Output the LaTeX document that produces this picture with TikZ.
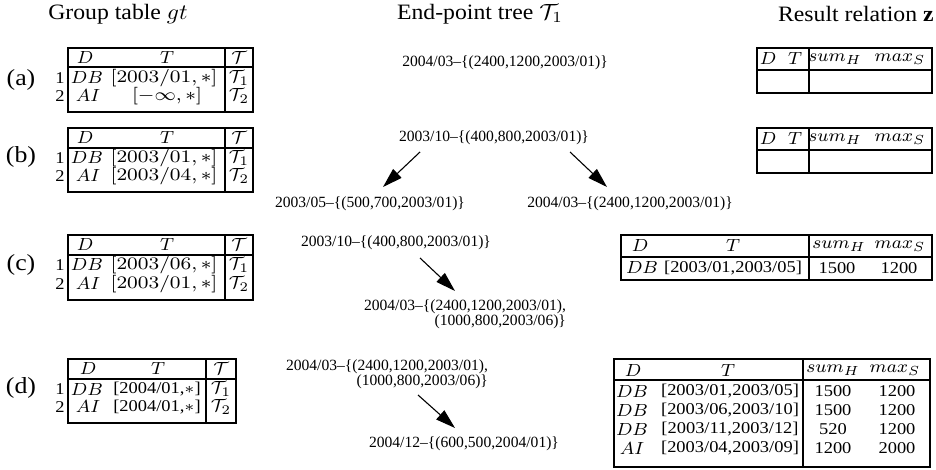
\documentclass[tikz,border=0pt]{standalone}
\usepackage[no-math]{fontspec}
\setmainfont{Liberation Serif}
\usepackage{amsmath}
\usetikzlibrary{arrows.meta, calc}

\begin{document}
\begin{tikzpicture}[
    x=0.016cm, y=-0.016cm,
    tbl/.style={line width=1.3pt},
    mth/.style={inner sep=0pt, xscale=1.04, font=\fontsize{8}{9.6}\selectfont},
    ivl/.style={mth, xscale=1.1},
    txt/.style={inner sep=0pt, xscale=1.12, font=\fontsize{7.5}{9}\selectfont},
    tree/.style={inner sep=0pt, align=right, font=\fontsize{7.1}{7}\selectfont},
    head/.style={inner sep=0pt, xscale=1.08, font=\fontsize{10}{12}\selectfont},
    tag/.style={inner sep=0pt, xscale=1.12, font=\fontsize{10.5}{12}\selectfont},
    tarrow/.style={line width=0.5pt, -{Triangle[length=9pt, width=5.5pt]}}
]
   \useasboundingbox (0,0) rectangle (936,470);

   % Headings
   \node[head] (hgt) at (118,14) {Group table $gt$};
   \node[head] (htree) at (480,14) {End-point tree $\mathcal{T}_1$};
   \node[head, anchor=east] (hres) at (934,14) {Result relation \textbf{z}};

   % Step labels
   \node[tag] (la) at (21,80) {(a)};
   \node[tag] (lb) at (21,157) {(b)};
   \node[tag] (lc) at (21,265) {(c)};
   \node[tag] (ld) at (21,388) {(d)};

   % Group table (a)
   \draw[tbl] (68,48) rectangle (253,112) (68,67) -- (253,67) (225,48) -- (225,112);
   \node[mth] (gaD) at (85,57.5) {$D$};
   \node[mth] (gaT) at (167,57.5) {$T$};
   \node[mth] (gaC) at (239,57.5) {$\mathcal{T}$};
   \node[txt] (ga1) at (60,78) {1};
   \node[mth] (ga1d) at (87,78) {$DB$};
   \node[ivl] (ga1t) at (164,78) {$[2003/01,*]$};
   \node[mth] (ga1c) at (239,78) {$\mathcal{T}_1$};
   \node[txt] (ga2) at (60,96) {2};
   \node[mth] (ga2d) at (88,96) {$AI$};
   \node[ivl] (ga2t) at (167,96) {$[-\infty,*]$};
   \node[mth] (ga2c) at (239,96) {$\mathcal{T}_2$};

   % Group table (b)
   \draw[tbl] (68,128) rectangle (253,192) (68,148) -- (253,148) (225,128) -- (225,192);
   \node[mth] (gbD) at (85,138) {$D$};
   \node[mth] (gbT) at (167,138) {$T$};
   \node[mth] (gbC) at (239,138) {$\mathcal{T}$};
   \node[txt] (gb1) at (60,158) {1};
   \node[mth] (gb1d) at (87,158) {$DB$};
   \node[ivl] (gb1t) at (164,158) {$[2003/01,*]$};
   \node[mth] (gb1c) at (239,158) {$\mathcal{T}_1$};
   \node[txt] (gb2) at (60,176) {2};
   \node[mth] (gb2d) at (88,176) {$AI$};
   \node[ivl] (gb2t) at (164,176) {$[2003/04,*]$};
   \node[mth] (gb2c) at (239,176) {$\mathcal{T}_2$};

   % Group table (c)
   \draw[tbl] (68,235) rectangle (253,300) (68,255) -- (253,255) (225,235) -- (225,300);
   \node[mth] (gcD) at (85,245) {$D$};
   \node[mth] (gcT) at (167,245) {$T$};
   \node[mth] (gcC) at (239,245) {$\mathcal{T}$};
   \node[txt] (gc1) at (60,265) {1};
   \node[mth] (gc1d) at (87,265) {$DB$};
   \node[ivl] (gc1t) at (164,265) {$[2003/06,*]$};
   \node[mth] (gc1c) at (239,265) {$\mathcal{T}_1$};
   \node[txt] (gc2) at (60,284) {2};
   \node[mth] (gc2d) at (88,284) {$AI$};
   \node[ivl] (gc2t) at (164,284) {$[2003/01,*]$};
   \node[mth] (gc2c) at (239,284) {$\mathcal{T}_2$};

   % Group table (d)
   \draw[tbl] (68,359) rectangle (236,423) (68,379) -- (236,379) (206,359) -- (206,423);
   \node[mth] (gdD) at (88,369) {$D$};
   \node[mth] (gdT) at (158,369) {$T$};
   \node[mth] (gdC) at (221,369) {$\mathcal{T}$};
   \node[txt] (gd1) at (60,389) {1};
   \node[mth] (gd1d) at (87,389) {$DB$};
   \node[txt] (gd1t) at (157,389) {[2004/01,$*$]};
   \node[mth] (gd1c) at (221,389) {$\mathcal{T}_1$};
   \node[txt] (gd2) at (60,407) {2};
   \node[mth] (gd2d) at (88,407) {$AI$};
   \node[txt] (gd2t) at (157,407) {[2004/01,$*$]};
   \node[mth] (gd2c) at (221,407) {$\mathcal{T}_2$};

   % End-point trees
   \node[tree] (ta) at (505,63) {2004/03--\{(2400,1200,2003/01)\}};
   \node[tree] (tb) at (494,138) {2003/10--\{(400,800,2003/01)\}};
   \node[tree] (tbl) at (370,204) {2003/05--\{(500,700,2003/01)\}};
   \node[tree] (tbr) at (630,204) {2004/03--\{(2400,1200,2003/01)\}};
   \node[tree] (tc) at (396,243) {2003/10--\{(400,800,2003/01)\}};
   \node[tree] (tcr) at (465,314) {2004/03--\{(2400,1200,2003/01),\\(1000,800,2003/06)\}};
   \node[tree] (td) at (387,374) {2004/03--\{(2400,1200,2003/01),\\(1000,800,2003/06)\}};
   \node[tree] (tdr) at (464,444) {2004/12--\{(600,500,2004/01)\}};

   \draw[tarrow] ($(tb)+(-74,14)$) -- ($(tbl)+(13,-17)$);
   \draw[tarrow] ($(tb)+(76,14)$) -- ($(tbr)+(-23,-17)$);
   \draw[tarrow] ($(tc)+(24,15)$) -- ($(tcr)+(-10,-23)$);
   \draw[tarrow] ($(td)+(31,21)$) -- ($(tdr)+(-9,-16)$);

   % Result relation (a)
   \draw[tbl] (757,48) rectangle (932,93) (757,70) -- (932,70) (809,48) -- (809,93);
   \node[mth] (raD) at (768,59) {$D$};
   \node[mth] (raT) at (795,59) {$T$};
   \node[mth] (raS) at (835,59) {$sum_H$};
   \node[mth] (raM) at (900,59) {$max_S$};

   % Result relation (b)
   \draw[tbl] (757,128) rectangle (932,173) (757,150) -- (932,150) (809,128) -- (809,173);
   \node[mth] (rbD) at (768,139) {$D$};
   \node[mth] (rbT) at (795,139) {$T$};
   \node[mth] (rbS) at (835,139) {$sum_H$};
   \node[mth] (rbM) at (900,139) {$max_S$};

   % Result relation (c)
   \draw[tbl] (621,235) rectangle (932,280) (621,257) -- (932,257) (809,235) -- (809,280);
   \node[mth] (rcD) at (640,246) {$D$};
   \node[mth] (rcT) at (733,246) {$T$};
   \node[mth] (rcS) at (839,246) {$sum_H$};
   \node[mth] (rcM) at (900,246) {$max_S$};
   \node[mth] (rc1d) at (642,268) {$DB$};
   \node[txt] (rc1t) at (733,268) {[2003/01,2003/05]};
   \node[txt] (rc1s) at (837,268) {1500};
   \node[txt] (rc1m) at (899,268) {1200};

   % Result relation (d)
   \draw[tbl] (614,359) rectangle (930,467) (614,380) -- (930,380) (803,359) -- (803,467);
   \node[mth] (rdD) at (633,370) {$D$};
   \node[mth] (rdT) at (728,370) {$T$};
   \node[mth] (rdS) at (833,370) {$sum_H$};
   \node[mth] (rdM) at (895,370) {$max_S$};
   \node[mth] (rd1d) at (632,391) {$DB$};
   \node[txt] (rd1t) at (730,391) {[2003/01,2003/05]};
   \node[txt] (rd1s) at (833,391) {1500};
   \node[txt] (rd1m) at (897,391) {1200};
   \node[mth] (rd2d) at (632,410) {$DB$};
   \node[txt] (rd2t) at (730,410) {[2003/06,2003/10]};
   \node[txt] (rd2s) at (833,410) {1500};
   \node[txt] (rd2m) at (897,410) {1200};
   \node[mth] (rd3d) at (632,429) {$DB$};
   \node[txt] (rd3t) at (730,429) {[2003/11,2003/12]};
   \node[txt] (rd3s) at (833,429) {520};
   \node[txt] (rd3m) at (897,429) {1200};
   \node[mth] (rd4d) at (632,448) {$AI$};
   \node[txt] (rd4t) at (730,448) {[2003/04,2003/09]};
   \node[txt] (rd4s) at (833,448) {1200};
   \node[txt] (rd4m) at (897,448) {2000};
\end{tikzpicture}
\end{document}
